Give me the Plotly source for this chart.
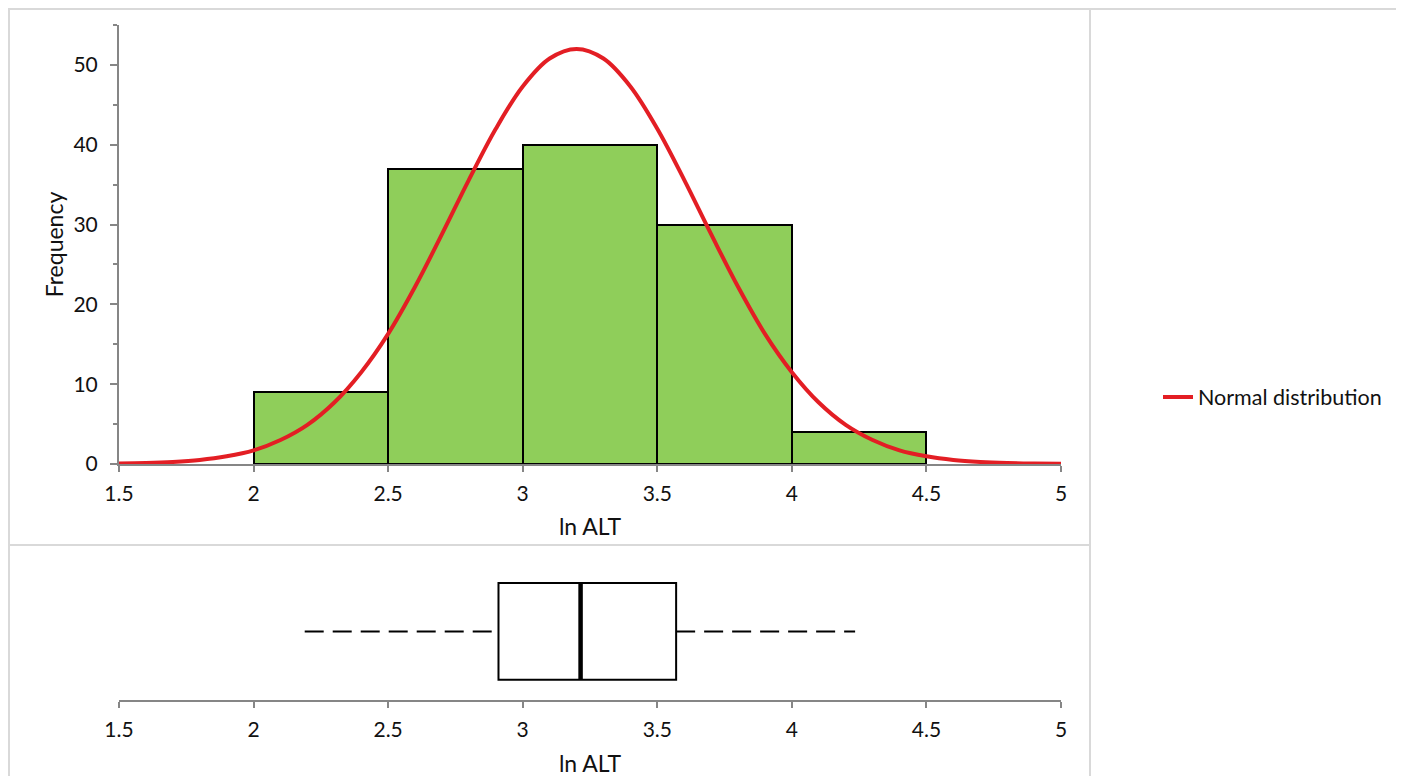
import plotly.graph_objects as go

# histogram of ln ALT
bin_left = [2.0, 2.5, 3.0, 3.5, 4.0]
bin_width = 0.5
freq = [9, 37, 40, 30, 4]

# fitted normal curve
curve_x = [1.5, 1.6, 1.7, 1.8, 1.9, 2.0, 2.1, 2.2, 2.3, 2.4, 2.5, 2.6, 2.7, 2.8,
           2.9, 3.0, 3.1, 3.2, 3.3, 3.4, 3.5, 3.6, 3.7, 3.8, 3.9, 4.0, 4.1, 4.2,
           4.3, 4.4, 4.5, 4.6, 4.7, 4.8, 4.9, 5.0]
curve_y = [0.06, 0.12, 0.25, 0.5, 0.96, 1.7, 3.0, 4.9, 7.7, 11.5, 16.3, 22.2,
           28.8, 35.6, 42.0, 47.3, 50.8, 52.0, 50.8, 47.3, 42.0, 35.6, 28.8,
           22.2, 16.3, 11.5, 7.7, 4.9, 3.0, 1.7, 0.96, 0.5, 0.25, 0.12, 0.06, 0.03]

# box plot stats
lower_whisker = 2.19
q1 = 2.91
median = 3.215
q3 = 3.57
upper_whisker = 4.235

W, H = 1404, 776
OFF = 8  # page body margin
FONT = "Lato"
AXIS_GRAY = "#868686"
RED = "#e31e24"
GREEN = "#8fce5a"


def px_x(p):
    return (p - OFF) / W


def px_y(p):
    return 1 - (p - OFF) / H


fig = go.Figure()

fig.add_trace(go.Bar(
    x=[b + bin_width / 2 for b in bin_left], y=freq, width=bin_width,
    marker=dict(color=GREEN, line=dict(color="black", width=2)),
    showlegend=False, hoverinfo="x+y",
    xaxis="x", yaxis="y",
))

fig.add_trace(go.Scatter(
    x=curve_x, y=curve_y, mode="lines",
    line=dict(color=RED, width=4, shape="spline", smoothing=1.0),
    name="Normal distribution", xaxis="x", yaxis="y",
))

# box plot (whiskers drawn separately, dashed)
box_y = 0.49
fig.add_trace(go.Box(
    y=[box_y], q1=[q1], median=[median], q3=[q3], lowerfence=[q1], upperfence=[q3],
    orientation="h", width=0.69, whiskerwidth=0, fillcolor="white",
    line=dict(color="black", width=2), boxpoints=False, showlegend=False,
    xaxis="x2", yaxis="y2",
))
for a, b in [(lower_whisker, q1), (q3, upper_whisker)]:
    fig.add_trace(go.Scatter(
        x=[a, b], y=[box_y, box_y], mode="lines",
        line=dict(color="black", width=2, dash="19px,9px"),
        showlegend=False, hoverinfo="skip", xaxis="x2", yaxis="y2",
    ))
fig.add_trace(go.Scatter(
    x=[median, median], y=[box_y - 0.345, box_y + 0.345], mode="lines",
    line=dict(color="black", width=4.5), showlegend=False, hoverinfo="skip",
    xaxis="x2", yaxis="y2",
))

xdom = [px_x(119), px_x(1061)]
axis_common = dict(
    showline=True, linecolor=AXIS_GRAY, linewidth=2, showgrid=False, zeroline=False,
    ticks="outside", tickcolor=AXIS_GRAY, tickwidth=2, automargin=False,
    tickfont=dict(family=FONT, size=21, color="#111"),
)
title_font = dict(family=FONT, size=23, color="#111")

fig.update_layout(
    width=W, height=H, margin=dict(l=0, r=0, t=0, b=0, autoexpand=False),
    paper_bgcolor="white", plot_bgcolor="white",
    font=dict(family=FONT, size=21, color="#111"),
    xaxis=dict(domain=xdom, range=[1.5, 5], dtick=0.5, tick0=1.5, anchor="y",
               ticklen=6, ticklabelstandoff=4,
               title=dict(text="ln ALT", standoff=15, font=title_font), **axis_common),
    yaxis=dict(domain=[px_y(464), px_y(25)], range=[0, 55], dtick=10, anchor="x",
               ticklen=7, ticklabelstandoff=8,
               minor=dict(dtick=5, ticks="outside", ticklen=4, tickcolor=AXIS_GRAY, tickwidth=2),
               title=dict(text="Frequency", standoff=3, font=title_font), **axis_common),
    xaxis2=dict(domain=xdom, range=[1.5, 5], dtick=0.5, tick0=1.5, anchor="y2",
                ticklen=6, ticklabelstandoff=4,
                title=dict(text="ln ALT", standoff=16, font=title_font), **axis_common),
    yaxis2=dict(domain=[px_y(700), px_y(560)], range=[0, 1], visible=False, anchor="x2"),
    legend=dict(x=px_x(1158), y=px_y(397), xanchor="left", yanchor="middle",
                font=dict(family=FONT, size=21.5, color="#111"), bgcolor="rgba(0,0,0,0)"),
    bargap=0,
)

# chart area borders
border = dict(color="#d9d9d9", width=2)
for x0, y0, x1, y1 in [(9, 9, 1090, 545), (9, 545, 1090, 783), (1090, 9, 1397, 783)]:
    fig.add_shape(type="rect", xref="paper", yref="paper",
                  x0=px_x(x0), x1=px_x(x1), y0=px_y(y0), y1=px_y(y1),
                  line=border, fillcolor="rgba(0,0,0,0)", layer="below")

fig.write_html("out.html")
